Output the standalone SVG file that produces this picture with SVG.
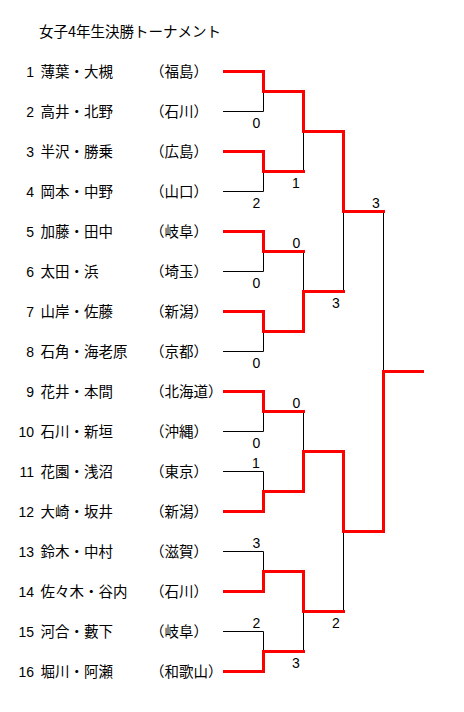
<svg xmlns="http://www.w3.org/2000/svg" width="464" height="712" viewBox="0 0 464 712">
<style>
.bg{fill:#ffffff}
.t{font-family:"Noto Sans CJK JP","Noto Sans CJK SC",sans-serif;font-size:14.5px;fill:#000}
.n{font-family:"Liberation Sans",Arial,sans-serif;font-size:14px;fill:#000;text-anchor:end}
.s{font-family:"Liberation Sans",Arial,sans-serif;font-size:14px;fill:#000;text-anchor:middle}
.bk{fill:none;stroke:#000;stroke-width:1}
.rd{fill:none;stroke:#ff0000;stroke-width:3;stroke-linejoin:miter;stroke-linecap:square}
</style>
<rect class="bg" x="0" y="0" width="464" height="712"/>
<text class="t" x="39" y="37">女子4年生決勝トーナメント</text>
<g id="p1"><text class="n" x="34" y="77">1</text><text class="t" x="40.5" y="77">薄葉・大槻</text><text class="t" x="150" y="77">（福島）</text></g>
<g id="p2"><text class="n" x="34" y="117">2</text><text class="t" x="40.5" y="117">高井・北野</text><text class="t" x="150" y="117">（石川）</text></g>
<g id="p3"><text class="n" x="34" y="157">3</text><text class="t" x="40.5" y="157">半沢・勝乗</text><text class="t" x="150" y="157">（広島）</text></g>
<g id="p4"><text class="n" x="34" y="197">4</text><text class="t" x="40.5" y="197">岡本・中野</text><text class="t" x="150" y="197">（山口）</text></g>
<g id="p5"><text class="n" x="34" y="237">5</text><text class="t" x="40.5" y="237">加藤・田中</text><text class="t" x="150" y="237">（岐阜）</text></g>
<g id="p6"><text class="n" x="34" y="277">6</text><text class="t" x="40.5" y="277">太田・浜</text><text class="t" x="150" y="277">（埼玉）</text></g>
<g id="p7"><text class="n" x="34" y="317">7</text><text class="t" x="40.5" y="317">山岸・佐藤</text><text class="t" x="150" y="317">（新潟）</text></g>
<g id="p8"><text class="n" x="34" y="357">8</text><text class="t" x="40.5" y="357">石角・海老原</text><text class="t" x="150" y="357">（京都）</text></g>
<g id="p9"><text class="n" x="34" y="397">9</text><text class="t" x="40.5" y="397">花井・本間</text><text class="t" x="150" y="397">（北海道）</text></g>
<g id="p10"><text class="n" x="34" y="437">10</text><text class="t" x="40.5" y="437">石川・新垣</text><text class="t" x="150" y="437">（沖縄）</text></g>
<g id="p11"><text class="n" x="34" y="477">11</text><text class="t" x="40.5" y="477">花園・浅沼</text><text class="t" x="150" y="477">（東京）</text></g>
<g id="p12"><text class="n" x="34" y="517">12</text><text class="t" x="40.5" y="517">大崎・坂井</text><text class="t" x="150" y="517">（新潟）</text></g>
<g id="p13"><text class="n" x="34" y="557">13</text><text class="t" x="40.5" y="557">鈴木・中村</text><text class="t" x="150" y="557">（滋賀）</text></g>
<g id="p14"><text class="n" x="34" y="597">14</text><text class="t" x="40.5" y="597">佐々木・谷内</text><text class="t" x="150" y="597">（石川）</text></g>
<g id="p15"><text class="n" x="34" y="637">15</text><text class="t" x="40.5" y="637">河合・藪下</text><text class="t" x="150" y="637">（岐阜）</text></g>
<g id="p16"><text class="n" x="34" y="677">16</text><text class="t" x="40.5" y="677">堀川・阿瀬</text><text class="t" x="150" y="677">（和歌山）</text></g>
<g id="connectors">
<path class="bk" d="M223,111.5H263.5V91.5 M223,191.5H263.5V171.5 M303.5,131.5V171.5 M223,271.5H263.5V251.5 M223,351.5H263.5V331.5 M303.5,251.5V291.5 M343.5,211.5V291.5 M223,431.5H263.5V411.5 M223,471.5H263.5V491.5 M303.5,411.5V451.5 M223,551.5H263.5V571.5 M223,631.5H263.5V651.5 M303.5,611.5V651.5 M343.5,531.5V611.5 M383.5,211.5V371.5"/>
<path class="rd" d="M224.5,71.5H263.5V91.5H303.5V131.5H343.5V211.5H383.5"/>
<path class="rd" d="M224.5,151.5H263.5V171.5H303.5"/>
<path class="rd" d="M224.5,231.5H263.5V251.5H303.5"/>
<path class="rd" d="M224.5,311.5H263.5V331.5H303.5V291.5H343.5"/>
<path class="rd" d="M224.5,391.5H263.5V411.5H303.5"/>
<path class="rd" d="M224.5,511.5H263.5V491.5H303.5V451.5H343.5V531.5H383.5V371.5H422.5"/>
<path class="rd" d="M224.5,591.5H263.5V571.5H303.5V611.5H343.5"/>
<path class="rd" d="M224.5,671.5H263.5V651.5H303.5"/>
</g>
<g id="scores">
<text class="s" x="256.5" y="128">0</text>
<text class="s" x="296" y="188">1</text>
<text class="s" x="256.5" y="208">2</text>
<text class="s" x="376" y="208">3</text>
<text class="s" x="296.5" y="248">0</text>
<text class="s" x="256.5" y="288">0</text>
<text class="s" x="336" y="308">3</text>
<text class="s" x="256.5" y="368">0</text>
<text class="s" x="296.5" y="408">0</text>
<text class="s" x="256.5" y="448">0</text>
<text class="s" x="256" y="468">1</text>
<text class="s" x="256.5" y="548">3</text>
<text class="s" x="256.5" y="628">2</text>
<text class="s" x="336" y="628">2</text>
<text class="s" x="296" y="668">3</text>
</g>
</svg>
